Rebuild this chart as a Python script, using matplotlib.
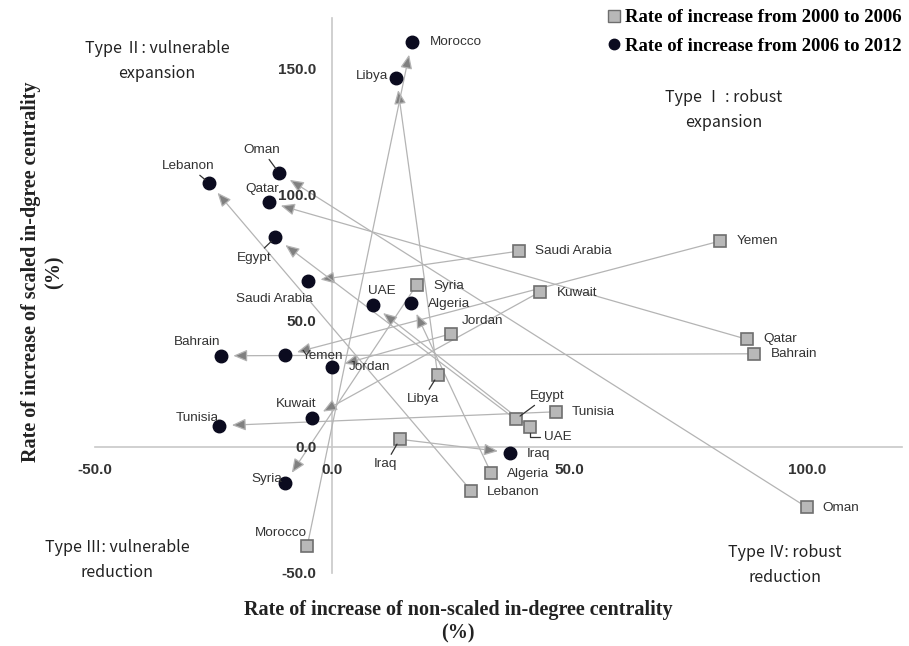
import matplotlib
matplotlib.use("Agg")
import matplotlib.pyplot as plt
from matplotlib.lines import Line2D

# data: rate of increase (%) per country
countries = ["Saudi Arabia", "Yemen", "Syria", "Kuwait", "Jordan", "Qatar", "Bahrain", "Libya",
             "Tunisia", "Egypt", "UAE", "Iraq", "Algeria", "Lebanon", "Oman", "Morocco"]
# 2000 -> 2006 (squares)
x_0006 = [39.3, 81.7, 17.8, 43.7, 24.9, 87.4, 88.8, 22.2, 47.1, 38.6, 41.6, 14.2, 33.4, 29.2, 99.9, -5.3]
y_0006 = [77.6, 81.6, 64.3, 61.4, 44.8, 42.6, 36.9, 28.4, 13.9, 10.9, 7.7, 3.0, -10.2, -17.3, -23.9, -39.4]
# 2006 -> 2012 (circles)
x_0612 = [-5.1, -10.0, -10.0, -4.3, 0.0, -13.4, -23.5, 13.5, -23.8, -12.0, 8.6, 37.5, 16.6, -25.9, -11.2, 16.7]
y_0612 = [65.6, 36.3, -14.4, 11.6, 31.6, 97.0, 36.1, 146.3, 8.4, 83.0, 56.1, -2.3, 57.2, 104.5, 108.5, 160.3]

x_ticks = [-50, 0, 50, 100]
y_ticks = [-50, 0, 50, 100, 150]

legend_labels = ["Rate of increase from 2000 to 2006", "Rate of increase from 2006 to 2012"]
quadrants = ["Type \u2160 : robust\nexpansion", "Type \u2161: vulnerable\nexpansion",
             "Type \u2162: vulnerable\nreduction", "Type \u2163: robust\nreduction"]

# label placement (offset in points, ha, leader line)
sq_lab = {
    "Saudi Arabia": (11.3, 0.2, "left", None), "Yemen": (12.2, 0.2, "left", None),
    "Syria": (11.7, -0.7, "left", None), "Kuwait": (12, -0.7, "left", None),
    "Jordan": (8.1, 9.1, "left", None), "Qatar": (11.7, 0, "left", None),
    "Bahrain": (12, -0.3, "left", None), "Libya": (-10.6, -17.3, "center", "arc3"),
    "Tunisia": (11.3, -0.5, "left", None), "Egypt": (23, 17, "center", "arc3"),
    "UAE": (10.1, -7.2, "left", "angle,angleA=0,angleB=90,rad=0"),
    "Iraq": (-10.3, -18, "center", "arc3"), "Algeria": (11.3, -1.2, "left", None),
    "Lebanon": (11.7, -1.4, "left", None), "Oman": (11.5, -0.5, "left", None),
    "Morocco": (-19.2, 9.4, "center", None),
}
ci_lab = {
    "Morocco": (13.2, 0.5, "left", None), "Libya": (-6.3, 1.2, "right", None),
    "Oman": (-12.5, 17, "center", "arc3"), "Lebanon": (-15.3, 12.7, "center", "arc3"),
    "Qatar": (-4.8, 9.6, "center", None), "Egypt": (-15.3, -14.6, "center", "arc3"),
    "Saudi Arabia": (-24.5, -12.5, "center", None), "UAE": (6.3, 10.6, "center", None),
    "Algeria": (12.2, -0.7, "left", None), "Bahrain": (-17, 9.8, "center", None),
    "Yemen": (12.2, -0.2, "left", None), "Jordan": (11.9, -0.2, "left", None),
    "Kuwait": (-11.3, 9.6, "center", None), "Tunisia": (-15.8, 5.5, "center", None),
    "Iraq": (11.7, -1, "left", None), "Syria": (-13, 3.1, "center", None),
}

W, H = 909, 646


def px(x, y):
    return x / W, 1 - y / H


fig = plt.figure(figsize=(9.09, 6.46), dpi=100)
ax = fig.add_axes([95 / W, 1 - 573 / H, 807 / W, 555 / H])
ax.set_xlim(-50, 120)
ax.set_ylim(-50, 170)

for s in ["top", "right"]:
    ax.spines[s].set_visible(False)
for s in ["left", "bottom"]:
    ax.spines[s].set_position(("data", 0))
    ax.spines[s].set_color("#c8c8c8")
    ax.spines[s].set_linewidth(1.2)
    ax.spines[s].set_zorder(0)

ax.set_xticks(x_ticks)
ax.set_xticklabels(["%.1f" % v for v in x_ticks])
ax.set_yticks(y_ticks)
ax.set_yticklabels(["%.1f" % v for v in y_ticks])
ax.tick_params(length=0, pad=11.5, labelsize=11, labelcolor="#333333")
for t in ax.get_xticklabels() + ax.get_yticklabels():
    t.set_fontfamily("Liberation Sans")
    t.set_fontweight("bold")

# arrows from 2000-2006 to 2006-2012
for i in range(len(countries)):
    ax.annotate("", xy=(x_0612[i], y_0612[i]), xytext=(x_0006[i], y_0006[i]),
                arrowprops=dict(arrowstyle="-|>,head_length=0.42,head_width=0.18",
                                mutation_scale=20, fc="#808080", ec="#b4b4b4",
                                lw=0.9, shrinkA=0, shrinkB=9), zorder=1)

ax.plot(x_0006, y_0006, "s", ms=9.3, mfc="#b8b8b8", mec="#6e6e6e", mew=1.2,
        ls="none", zorder=3)
ax.plot(x_0612, y_0612, "o", ms=9, mfc="#0b0b1f", mec="#0b0b1f",
        ls="none", zorder=3)

lab_font = dict(fontsize=9.7, family="Liberation Sans", color="#333333", va="center")
for labs, xs, ys in [(sq_lab, x_0006, y_0006), (ci_lab, x_0612, y_0612)]:
    for i, c in enumerate(countries):
        dx, dy, ha, conn = labs[c]
        ap = None
        if conn:
            ap = dict(arrowstyle="-", color="#333333", lw=0.9, shrinkA=1, shrinkB=4,
                      connectionstyle=conn)
        ax.annotate(c, xy=(xs[i], ys[i]), xytext=(dx, dy), textcoords="offset points",
                    ha=ha, arrowprops=ap, zorder=4, **lab_font)

# quadrant names
q_font = dict(fontsize=11.5, family=["Noto Sans CJK KR", "DejaVu Sans"], color="#222222",
              ha="center", va="center", linespacing=1.68)
for txt, (qx, qy) in zip(quadrants, [(724, 110), (157, 61), (117, 560), (785, 565)]):
    fig.text(*px(qx, qy), txt, **q_font)

# axis titles
t_font = dict(family="Liberation Serif", fontweight="bold", fontsize=14.5, color="#222222",
              ha="center", va="center", linespacing=1.25)
fig.text(*px(458, 622), "Rate of increase of non-scaled in-degree centrality\n(%)", **t_font)
fig.text(*px(43, 272), "Rate of increase of scaled in-dgree centrality\n(%)",
         rotation=90, **t_font)

# legend
handles = [Line2D([], [], marker="s", ls="none", ms=8, mfc="#b8b8b8", mec="#6e6e6e", mew=1),
           Line2D([], [], marker="o", ls="none", ms=7.5, mfc="#0b0b1f", mec="#0b0b1f")]
fig.legend(handles, legend_labels, loc="upper right", bbox_to_anchor=px(902, 9),
           frameon=False, handlelength=0.6, handletextpad=0.3, labelspacing=0.62,
           borderpad=0, borderaxespad=0,
           prop=dict(family="Liberation Serif", weight="bold", size=13.5))

fig.savefig("out.png", dpi=100)
